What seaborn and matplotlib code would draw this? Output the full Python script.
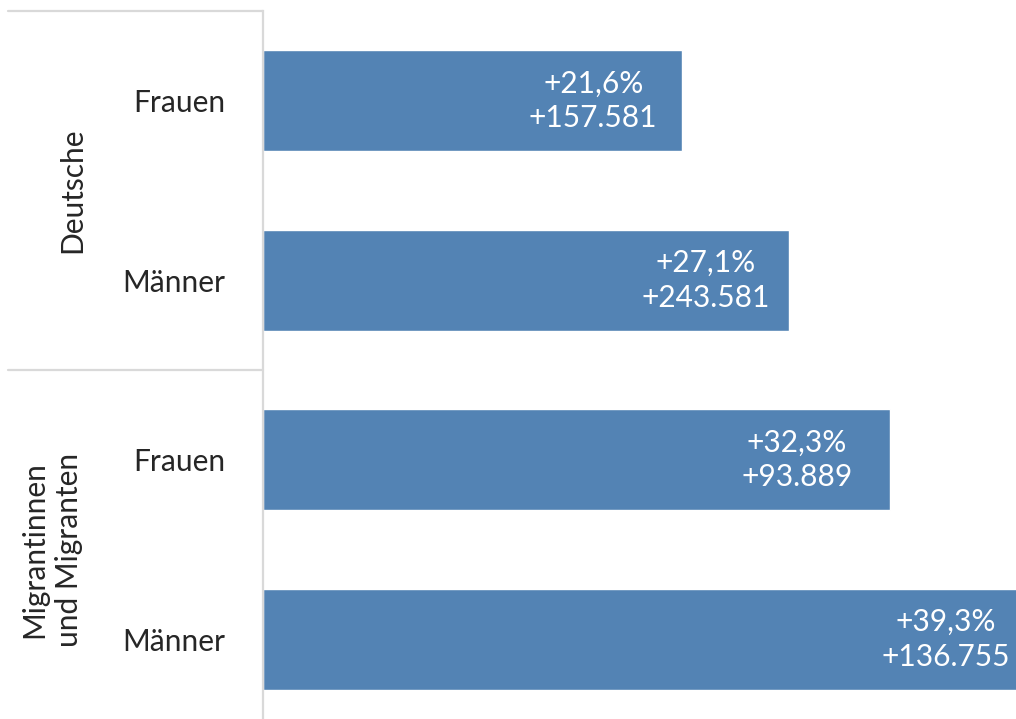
import pandas as pd
import matplotlib.pyplot as plt
import matplotlib.transforms as mtransforms
import seaborn as sns

# data
groups = ['Deutsche', 'Migrantinnen\nund Migranten']
sexes = ['Frauen', 'Männer', 'Frauen', 'Männer']
row_keys = ['D_F', 'D_M', 'M_F', 'M_M']
pct = [21.6, 27.1, 32.3, 39.3]
abs_change = ['+157.581', '+243.581', '+93.889', '+136.755']
pct_labels = ['+21,6%', '+27,1%', '+32,3%', '+39,3%']

df = pd.DataFrame({'row': row_keys, 'pct': pct})

sns.set_theme(style='white')
plt.rcParams['font.family'] = ['Lato', 'DejaVu Sans']
fs = 21.5

fig = plt.figure(figsize=(10.16, 7.19), dpi=100)
ax = fig.add_axes([263 / 1016, -10 / 719, 753 / 1016, 718 / 719])

sns.barplot(data=df, x='pct', y='row', orient='h', color='#5383B4',
            saturation=1, width=0.56, ax=ax)

ax.set_xlim(0, 38.8)
ax.set_ylim(3.5, -0.5)
ax.set_xlabel('')
ax.set_ylabel('')
ax.set_xticks([])
ax.set_yticklabels(sexes, fontsize=fs)
ax.tick_params(axis='y', length=0, pad=27)

for s in ['top', 'right', 'bottom']:
    ax.spines[s].set_visible(False)
ax.spines['left'].set_color('#d9d9d9')
ax.spines['left'].set_linewidth(1.6)

# value labels inside the bars
offsets = [-89, -83, -93, -80]
for i, (v, p, a) in enumerate(zip(pct, pct_labels, abs_change)):
    ax.annotate(p + '\n' + a, xy=(v, i), xytext=(offsets[i] * 0.72, 0),
                textcoords='offset points', ha='center', va='center',
                color='white', fontsize=fs, linespacing=1.3,
                annotation_clip=False)

# group lines and labels on the left
trans = mtransforms.blended_transform_factory(fig.transFigure, ax.transData)
for yy in [-0.5, 1.5]:
    ax.plot([8 / 1016, 263 / 1016], [yy, yy], color='#d9d9d9', lw=1.6,
            transform=trans, clip_on=False)

ax.text(72 / 1016, 0.5, groups[0], transform=trans, rotation=90,
        ha='center', va='center', fontsize=fs)
ax.text(52 / 1016, 2.5, groups[1], transform=trans, rotation=90,
        ha='center', va='center', fontsize=fs, linespacing=1.3)

fig.savefig('out.png', dpi=100)
